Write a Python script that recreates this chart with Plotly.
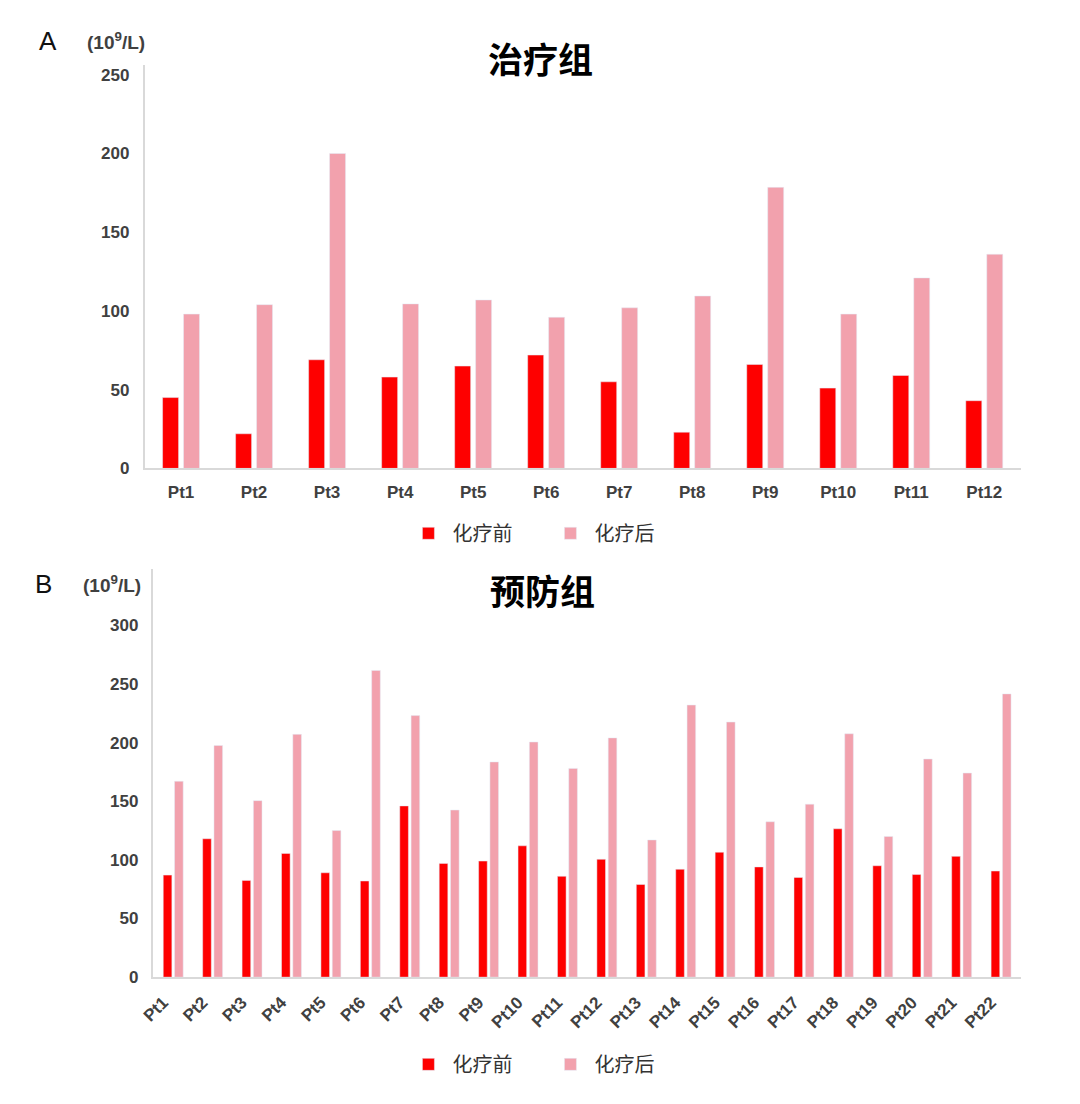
import plotly.graph_objects as go

# Panel A: 治疗组
cats_a = [f"Pt{i}" for i in range(1, 13)]
before_a = [45, 22, 69, 58, 65, 72, 55, 23, 66, 51, 59, 43]
after_a = [98, 104, 200, 104.5, 107, 96, 102, 109.5, 178.5, 98, 121, 136]

# Panel B: 预防组
cats_b = [f"Pt{i}" for i in range(1, 23)]
before_b = [87, 118, 82.5, 105.5, 89, 82, 146, 97, 99, 112, 86,
            100.5, 79, 92, 106.5, 94, 85, 126.5, 95, 87.5, 103, 90.5]
after_b = [167, 197.5, 150.5, 207, 125, 261.5, 223, 142.5, 183.5, 200.5, 178,
           204, 117, 232, 217.5, 132.5, 147.5, 207.5, 120, 186, 174, 241.5]

series_names = ["化疗前", "化疗后"]
RED = "#fe0000"
PINK = "#f2a1ad"

# page body has an 8px margin; size the figure so the whole page fits the window
OFF = 8
W, H = 1080 - 2 * OFF, 1076


# map target picture pixels -> page pixels -> paper fractions
def page_x(xr):
    return (xr - 8) / 0.992


def page_y(yr):
    return (yr - 0.9) / 0.9896


def px_x(xr):
    return (page_x(xr) - OFF) / W


def px_y(yr):
    return 1 - (page_y(yr) - OFF) / H


tick_font = dict(family="Liberation Sans, Arial", size=17, color="#404040", weight="bold")
xtick_b_font = dict(family="Liberation Sans, Arial", size=17, color="#404040", weight="bold")
cjk = "Noto Sans CJK SC"

fig = go.Figure()
fig.add_trace(go.Bar(x=cats_a, y=before_a, name=series_names[0], marker_color=RED,
                     xaxis="x", yaxis="y", legend="legend"))
fig.add_trace(go.Bar(x=cats_a, y=after_a, name=series_names[1], marker_color=PINK,
                     xaxis="x", yaxis="y", legend="legend"))
fig.add_trace(go.Bar(x=cats_b, y=before_b, name=series_names[0], marker_color=RED,
                     xaxis="x2", yaxis="y2", legend="legend2"))
fig.add_trace(go.Bar(x=cats_b, y=after_b, name=series_names[1], marker_color=PINK,
                     xaxis="x2", yaxis="y2", legend="legend2"))

axis_line = dict(showline=True, linecolor="#d9d9d9", linewidth=1.5, showgrid=False,
                 zeroline=False, ticks="")

legend_common = dict(orientation="h", xanchor="left", yanchor="middle",
                     font=dict(family=cjk, size=20, color="#333333"),
                     entrywidth=89, itemwidth=38, bgcolor="rgba(0,0,0,0)")

fig.update_layout(
    width=W, height=H,
    margin=dict(l=0, r=0, t=0, b=0),
    paper_bgcolor="white", plot_bgcolor="white",
    bargap=0.426, bargroupgap=0.237,
    xaxis=dict(domain=[px_x(140), px_x(1020)], anchor="y", tickfont=tick_font,
               ticklabelstandoff=7, **axis_line),
    yaxis=dict(domain=[px_y(473.5), px_y(66.7)], anchor="x", range=[0, 256],
               tickvals=[0, 50, 100, 150, 200, 250], tickfont=tick_font,
               ticklabelstandoff=10, **axis_line),
    xaxis2=dict(domain=[px_x(149), px_x(1020)], anchor="y2", tickfont=xtick_b_font,
                tickangle=-45, ticklabelstandoff=7, ticklabelshift=-10, **axis_line),
    yaxis2=dict(domain=[px_y(987), px_y(575)], anchor="x2", range=[0, 348],
                tickvals=[0, 50, 100, 150, 200, 250, 300], tickfont=tick_font,
                ticklabelstandoff=10, **axis_line),
    legend=dict(x=px_x(401), y=px_y(539), **legend_common),
    legend2=dict(x=px_x(401), y=px_y(1075), **legend_common),
)

annots = [
    dict(text="治疗组", x=px_x(538), y=px_y(59), font=dict(family=cjk, size=35, color="#000", weight="bold")),
    dict(text="预防组", x=px_x(540), y=px_y(596), font=dict(family=cjk, size=35, color="#000", weight="bold")),
    dict(text="A", x=px_x(43), y=px_y(42), font=dict(family="Liberation Sans, Arial", size=26, color="#111")),
    dict(text="B", x=px_x(39), y=px_y(590), font=dict(family="Liberation Sans, Arial", size=26, color="#111")),
    dict(text="(10<sup>9</sup>/L)", x=px_x(111), y=px_y(42), font=dict(family="Liberation Sans, Arial", size=19, color="#404040", weight="bold")),
    dict(text="(10<sup>9</sup>/L)", x=px_x(107), y=px_y(590), font=dict(family="Liberation Sans, Arial", size=19, color="#404040", weight="bold")),
]
for a in annots:
    fig.add_annotation(xref="paper", yref="paper", showarrow=False,
                       xanchor="center", yanchor="middle", **a)

fig.write_html("out.html")
